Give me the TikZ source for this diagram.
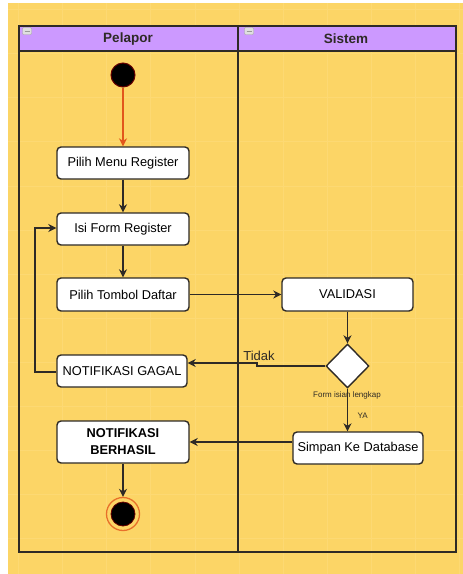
\documentclass[tikz,border=0pt]{standalone}
\usepackage{fontspec}
\setmainfont{Liberation Sans}
\usetikzlibrary{shapes.geometric,arrows.meta,calc}
\definecolor{bgy}{HTML}{FCD566}
\definecolor{gridy}{HTML}{FDD973}
\definecolor{lanep}{HTML}{CC99FF}
\definecolor{ink}{HTML}{2E2A26}
\definecolor{orng}{HTML}{E2561C}
\definecolor{ringo}{HTML}{E8702A}
\tikzset{
  actbox/.style={draw=ink, line width=1.4pt, fill=white, rounded corners=4pt, minimum width=132pt, minimum height=32pt, inner sep=0pt, align=center, font=\fontsize{12.8}{14.5}\selectfont},
  flow/.style={draw=ink, line width=1.4pt, -{Stealth[length=8pt,width=8pt]}},
  lane/.style={draw=ink, line width=1.4pt},
  mini/.style={draw=gray!70, fill=gray!25, rounded corners=1pt, minimum width=9pt, minimum height=7pt, inner sep=0pt},
}
\begin{document}
\begin{tikzpicture}[x=1pt,y=-1pt]
\useasboundingbox (0,0) rectangle (463,574);
\fill[white] (0,0) rectangle (463,574);
\fill[bgy] (8,3) rectangle (463,574);
\begin{scope}
\clip (8,3) rectangle (463,574);
\foreach \gx in {18,62,106,150,195,239,283,327,371,415,459} \draw[gridy, line width=0.6pt] (\gx,3) -- (\gx,574);
\foreach \gy in {9,53,97,141,186,230,274,318,362,406,450,494,538} \draw[gridy, line width=0.6pt] (8,\gy) -- (463,\gy);
\end{scope}
% pool
\filldraw[lane, fill=lanep] (19,26) rectangle (456,51);
\draw[lane] (19,26) rectangle (456,552);
\draw[lane] (238,26) -- (238,552);
\node[font=\bfseries\fontsize{13.5}{15}\selectfont, text=ink] (h1) at (128,39) {Pelapor};
\node[font=\bfseries\fontsize{13.5}{15}\selectfont, text=ink] (h2) at (346,39) {Sistem};
\node[mini] (m1) at (27,31) {};
\node[mini] (m2) at (249,31) {};
\draw[gray!80, line width=0.8pt] ($(m1.center)+(-2.5,0)$) -- ($(m1.center)+(2.5,0)$);
\draw[gray!80, line width=0.8pt] ($(m2.center)+(-2.5,0)$) -- ($(m2.center)+(2.5,0)$);
% nodes
\node[circle, fill=black, draw=red!40!black, line width=1pt, minimum size=24pt, inner sep=0pt] (start) at (123,75) {};
\node[actbox] (menu) at (123,163) {Pilih Menu Register};
\node[actbox] (isi) at (123,229) {Isi Form Register};
\node[actbox, minimum height=33pt] (tombol) at (123,294.5) {Pilih Tombol Daftar};
\node[actbox, minimum width=130pt] (gagal) at (122,371) {NOTIFIKASI GAGAL};
\node[actbox, minimum height=42pt, font=\bfseries\fontsize{12.8}{17}\selectfont] (berhasil) at (123,442) {NOTIFIKASI\\BERHASIL};
\node[circle, draw=ringo, line width=1.3pt, fill=none, minimum size=33pt, inner sep=0pt] (end) at (123,514) {};
\node[circle, fill=black, draw=red!40!black, line width=0.8pt, minimum size=24pt, inner sep=0pt] (endin) at (123,514) {};
\node[actbox, minimum width=131pt, minimum height=33pt] (valid) at (347.5,294.5) {VALIDASI};
\node[diamond, draw=ink, line width=1.4pt, fill=white, minimum width=43pt, minimum height=44pt, inner sep=0pt] (dec) at (347.5,366) {};
\node[actbox, minimum width=130pt] (simpan) at (358,448) {Simpan Ke Database};
% edges
\draw[flow, draw=orng, line width=1.1pt] (start) -- (menu);
\draw[flow] (menu) -- (isi);
\draw[flow] (isi) -- (tombol);
\draw[flow] (tombol) -- (valid);
\draw[flow] (valid) -- (dec);
\draw[flow] (dec.south) -- (dec.south |- simpan.north);
\node[font=\fontsize{8}{9}\selectfont, text=ink, inner sep=0.5pt] (lbl1) at (347,395) {Form isian lengkap};
\node[font=\fontsize{8}{9}\selectfont, text=ink, anchor=west] (lbl2) at (354,416) {YA};
\coordinate (j1) at (257,366);
\coordinate (j2) at (257,363);
\draw[flow] (dec.west) -- (j1) -- (j2) -- (gagal.east |- j2);
\node[font=\fontsize{13}{15}\selectfont, text=ink] (tidak) at (259,356) {Tidak};
\coordinate (l1) at (35,372);
\coordinate (l2) at (35,228);
\draw[flow] (gagal.west |- l1) -- (l1) -- (l2) -- (isi.west |- l2);
\coordinate (s1) at (293,442);
\draw[flow] (simpan.west |- s1) -- (berhasil.east |- s1);
\draw[flow] (berhasil) -- (end);
\end{tikzpicture}
\end{document}
